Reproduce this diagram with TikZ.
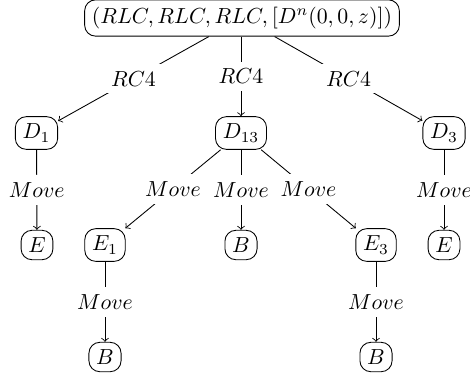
\documentclass[tikz,border=0pt]{standalone}
\newlength{\du}
\setlength{\du}{0.459pt}
\tikzset{
  state/.style={draw, rounded corners=5pt},
  trans/.style={->},
  translabel/.style={midway, fill=white}
}
\begin{document}
\begin{tikzpicture}
\pgftransformxscale{1.000000}
\pgftransformyscale{-1.000000}
\useasboundingbox (0\du,0\du) rectangle (470\du,379\du);
% root state
\node[state] (root) at (242\du,18\du){$(RLC, RLC, RLC, [D^n(0,0,z)])$};
% first level
\node[state] (d1) at (36.5\du,133\du){$D_1$};
\node[state] (d13) at (241\du,133\du){$D_{13}$};
\node[state] (d3) at (444\du,133\du){$D_3$};
% second level
\node[state] (eleft) at (37\du,245\du){$E$};
\node[state] (e1) at (105\du,245\du){$E_1$};
\node[state] (bmid) at (241\du,245\du){$B$};
\node[state] (e3) at (376\du,245\du){$E_3$};
\node[state] (eright) at (444\du,245\du){$E$};
% third level
\node[state] (bleft) at (105\du,357\du){$B$};
\node[state] (bright) at (376\du,357\du){$B$};
% transitions
\draw[trans] (root) -- (d1) node[translabel]{$RC4$};
\draw[trans] (root.south -| d13) -- (d13) node[translabel]{$RC4$};
\draw[trans] (root) -- (d3) node[translabel]{$RC4$};
\draw[trans] (d1) -- (eleft) node[translabel]{$Move$};
\draw[trans] (d13) -- (e1) node[translabel]{$Move$};
\draw[trans] (d13) -- (bmid) node[translabel]{$Move$};
\draw[trans] (d13) -- (e3) node[translabel]{$Move$};
\draw[trans] (d3) -- (eright) node[translabel]{$Move$};
\draw[trans] (e1) -- (bleft) node[translabel]{$Move$};
\draw[trans] (e3) -- (bright) node[translabel]{$Move$};
\end{tikzpicture}
\end{document}
